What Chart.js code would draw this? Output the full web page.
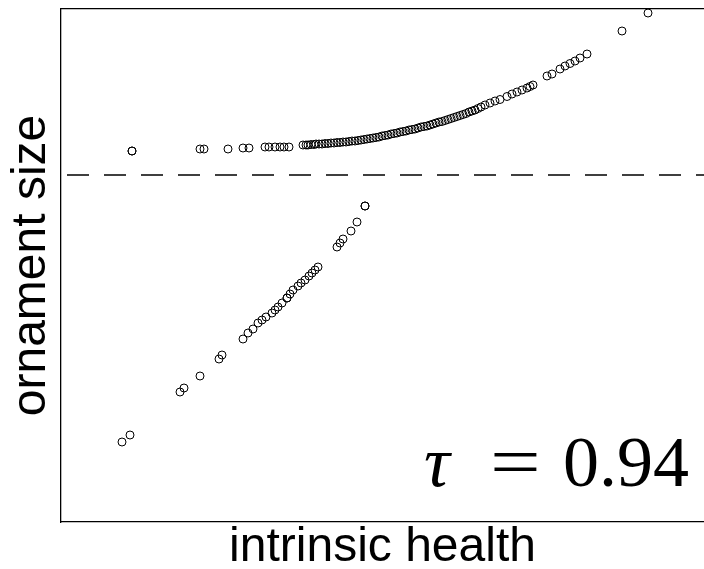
<!DOCTYPE html>
<html>
<head>
<meta charset="utf-8">
<script src="https://cdn.jsdelivr.net/npm/chart.js@4"></script>
<style>
html,body{margin:0;padding:0;background:#fff;}
#wrap{width:704px;height:569px;}
</style>
</head>
<body>
<div id="wrap"><canvas id="c" width="704" height="569"></canvas></div>
<script>
// ---- data (arbitrary units) ----
const xLabel = 'intrinsic health';
const yLabel = 'ornament size';
const tauValue = 0.94;
const thresholdSize = 347;
const healthRange = [0, 643];
const sizeRange = [0, 513];

// upper branch (above threshold)
const upperHealth = [
  71,71,139,143,167,182,188,204,208,214,219,223,228,
  242,245,247,250,253,255,258,261,264,267,
  270,273,276,279,282,285,288,291,294,297,
  300,303,306,309,312,315,318,321,324,327,
  330,333,336,339,342,345,348,351,354,357,
  360,363,366,369,372,375,378,381,384,387,
  390,393,396,399,402,405,408,411,414,417,
  420,
  424,429,434,439,446,451,456,461,466,469,472,486,491,499,504,509,514,519,526,561,587
];
const upperSize = [
  371,371,373,373,373,374,374,375,375,375,375,375,375,
  377,377,377,377.5,377.5,378,378,378,378.5,378.5,
  379,379,379.5,379.5,380,380,380.5,381,381,381.5,
  382,382.5,383,383.5,384,384.5,385,386,386.5,387,
  388,388.5,389,390,390.5,391,392,392.5,393,394,
  395,395.5,396,397,398,399,400,400.5,401.5,402.5,
  403.5,404.5,405.5,406.5,407.5,408.5,410,411,412,413.5,
  415,
  417,419,421,422.5,425.5,428,430,432,434,435.5,437,446,448,453,456,458.5,461,464,468,491,509
];

// lower branch (below threshold)
const lowerHealth = [304,304,296,290,282,279,276,257,254,251,248,244,240,237,232,229,226,226,221,217,214,211,205,201,197,192,187,182,161,158,139,123,119,69,61];
const lowerSize   = [316,316,300,291,283,279,275,255,252,249,246,242,239,236,232,228,224,224,219,215,212,209,205,202,199,193,189,183,167,163,146,134,130,87,80];

function pts(xs, ys){ return xs.map((x,i)=>({x:x, y:ys[i]})); }

const tauPlugin = {
  id: 'tauText',
  afterDraw(chart){
    const c = chart.ctx;
    c.save();
    c.fillStyle = '#000';
    c.textBaseline = 'alphabetic';
    c.textAlign = 'left';
    c.font = 'italic 72px "Liberation Serif", "DejaVu Serif", serif';
    c.fillText('\u03C4', 424, 486);
    c.save();
    c.translate(490, 486);
    c.scale(1.25, 1);
    c.font = '72px "Liberation Serif", "DejaVu Serif", serif';
    c.fillText('=', 0, 0);
    c.restore();
    c.font = '72px "Liberation Serif", "DejaVu Serif", serif';
    c.fillText(tauValue.toFixed(2), 563, 486);
    c.restore();
  }
};

const pointStyle = {
  pointStyle: 'circle',
  pointRadius: 4,
  pointHoverRadius: 4,
  pointBorderWidth: 1,
  pointBorderColor: '#000',
  pointBackgroundColor: 'rgba(0,0,0,0)',
  showLine: false
};

const titleFont = {family: '"Liberation Sans", Arial, Helvetica, sans-serif', size: 48, lineHeight: 0.9};

new Chart(document.getElementById('c'), {
  type: 'scatter',
  data: {
    datasets: [
      Object.assign({label: 'upper', data: pts(upperHealth, upperSize)}, pointStyle),
      Object.assign({label: 'lower', data: pts(lowerHealth, lowerSize)}, pointStyle),
      {
        type: 'line',
        label: 'threshold',
        data: [{x: healthRange[0], y: thresholdSize}, {x: healthRange[1], y: thresholdSize}],
        borderColor: '#000',
        borderWidth: 1.3,
        borderDash: [22, 15],
        borderDashOffset: 31,
        pointRadius: 0,
        fill: false,
        showLine: true
      }
    ]
  },
  options: {
    responsive: false,
    animation: false,
    layout: {padding: 0, autoPadding: false},
    plugins: {legend: {display: false}, tooltip: {enabled: false}},
    scales: {
      x: {
        type: 'linear', position: 'bottom', min: healthRange[0], max: healthRange[1],
        ticks: {display: false}, grid: {display: false},
        border: {display: true, color: '#000', width: 1.3},
        title: {display: true, text: xLabel, color: '#000', font: titleFont, padding: {top: 0, bottom: 0}},
        afterFit(s){ s.height = 47; }
      },
      xTop: {
        type: 'linear', position: 'top', min: healthRange[0], max: healthRange[1],
        ticks: {display: false}, grid: {display: false},
        border: {display: true, color: '#000', width: 1.3},
        afterFit(s){ s.height = 9; }
      },
      y: {
        type: 'linear', position: 'left', min: sizeRange[0], max: sizeRange[1],
        ticks: {display: false}, grid: {display: false},
        border: {display: true, color: '#000', width: 1.3},
        title: {display: true, text: yLabel, color: '#000', font: titleFont, padding: {top: 10, bottom: 0}},
        afterFit(s){ s.width = 61; }
      }
    }
  },
  plugins: [tauPlugin]
});
</script>
</body>
</html>
